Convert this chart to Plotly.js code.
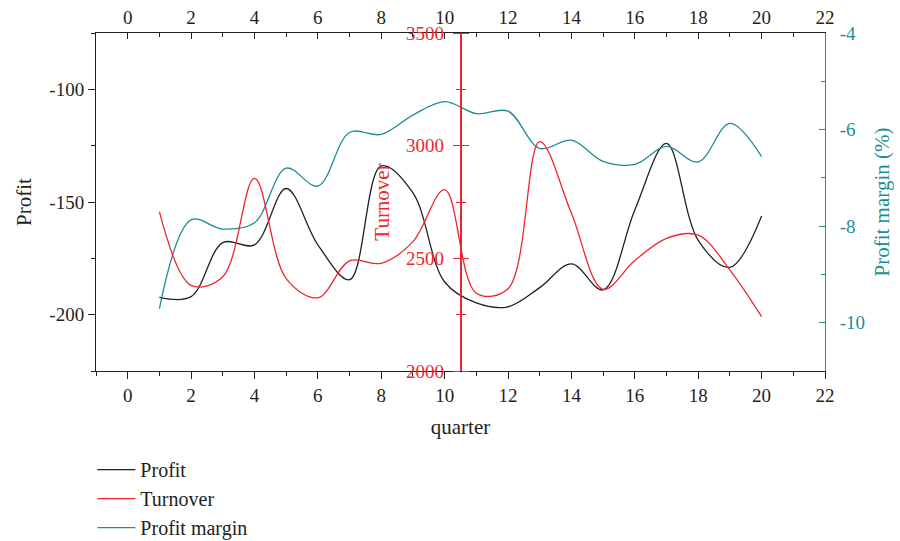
<!DOCTYPE html>
<html>
<head>
<meta charset="utf-8">
<script src="https://cdn.plot.ly/plotly-3.0.1.min.js"></script>
<style>html,body{margin:0;padding:0;background:#fff;}#chart{width:900px;height:541px;}</style>
</head>
<body>
<div id="chart"></div>
<script>
const quarter = [1,2,3,4,5,6,7,8,9,10,11,12,13,14,15,16,17,18,19,20];
const profit = [-192.3,-192,-168,-169,-144,-169,-184.5,-134,-146,-185.5,-194.8,-196.5,-188,-177.5,-189,-153.5,-124,-167,-179,-156.2];
const turnover = [2707,2380,2418,2855,2410,2325,2489,2478,2574,2805,2345,2365,3018,2700,2362,2490,2589,2603,2448,2241];
const profitMargin = [-9.71,-7.87,-8.06,-7.93,-6.80,-7.17,-6.06,-6.10,-5.70,-5.42,-5.67,-5.62,-6.39,-6.22,-6.66,-6.72,-6.35,-6.67,-5.87,-6.56];
const seriesNames = ['Profit','Turnover','Profit margin'];
const xTicks = [0,2,4,6,8,10,12,14,16,18,20,22];
const profitTicks = [-200,-150,-100];
const profitTickText = ['-200','-150','-100'];
const turnoverTicks = [2000,2500,3000,3500];
const marginTicks = [-10,-8,-6,-4];
const marginTickText = ['-10','-8','-6','-4'];

const BLACK = '#231f20', RED = '#f0242b', TEAL = '#1d8c95';
const FONT = 'Liberation Serif, Times New Roman, serif';
const SM = 1;

const traces = [
  {x: quarter, y: profit, name: seriesNames[0], type: 'scatter', mode: 'lines',
   line: {color: BLACK, width: 1.3, shape: 'spline', smoothing: SM}, xaxis: 'x', yaxis: 'y'},
  {x: quarter, y: turnover, name: seriesNames[1], type: 'scatter', mode: 'lines',
   line: {color: RED, width: 1.3, shape: 'spline', smoothing: SM}, xaxis: 'x', yaxis: 'y3'},
  {x: quarter, y: profitMargin, name: seriesNames[2], type: 'scatter', mode: 'lines',
   line: {color: TEAL, width: 1.3, shape: 'spline', smoothing: SM}, xaxis: 'x', yaxis: 'y2'},
  {x: quarter, y: profit, type: 'scatter', mode: 'lines', line: {width: 0}, opacity: 0,
   showlegend: false, hoverinfo: 'skip', xaxis: 'x2', yaxis: 'y'},
  {x: quarter, y: turnover, type: 'scatter', mode: 'lines', line: {width: 0}, opacity: 0,
   showlegend: false, hoverinfo: 'skip', xaxis: 'x', yaxis: 'y4'}
];

const tickFont = {family: FONT, size: 19, color: BLACK};
const layout = {
  width: 900, height: 541,
  margin: {l: 96, r: 75, t: 33, b: 170},
  paper_bgcolor: '#fff', plot_bgcolor: '#fff',
  font: {family: FONT, color: BLACK},
  showlegend: true,
  legend: {x: -0.005, xanchor: 'left', yref: 'container', y: 0.168, yanchor: 'top',
           font: {family: FONT, size: 20, color: BLACK}, itemwidth: 38,
           bgcolor: 'rgba(0,0,0,0)', tracegroupgap: 0},
  xaxis: {range: [-1, 22], tickvals: xTicks, ticks: 'outside', ticklen: 7, tickcolor: BLACK,
          minor: {dtick: 1, tick0: 0, ticks: 'outside', ticklen: 4, tickcolor: BLACK},
          showline: true, linecolor: BLACK, linewidth: 1, showgrid: false, zeroline: false,
          tickfont: tickFont, title: {text: 'quarter', font: {family: FONT, size: 21, color: BLACK}, standoff: 14}},
  xaxis2: {overlaying: 'x', side: 'top', anchor: 'y', range: [-1, 22], tickvals: xTicks,
           ticks: 'inside', ticklen: 6, tickcolor: BLACK,
           minor: {dtick: 1, tick0: 0, ticks: 'inside', ticklen: 4, tickcolor: BLACK},
           showline: true, linecolor: BLACK, linewidth: 1, showgrid: false, zeroline: false, tickfont: tickFont},
  yaxis: {range: [-225, -75], tickvals: profitTicks, ticktext: profitTickText, ticks: 'outside', ticklen: 7, tickcolor: BLACK,
          minor: {dtick: 25, tick0: -200, ticks: 'outside', ticklen: 4, tickcolor: BLACK},
          showline: true, linecolor: BLACK, linewidth: 1, showgrid: false, zeroline: false,
          tickfont: tickFont, title: {text: 'Profit', font: {family: FONT, size: 21, color: BLACK}, standoff: 12}},
  yaxis2: {overlaying: 'y', side: 'right', anchor: 'x', range: [-11, -4], tickvals: marginTicks, ticktext: marginTickText,
           ticks: 'inside', ticklen: 6, tickcolor: TEAL,
           minor: {dtick: 1, tick0: -10, ticks: 'inside', ticklen: 4, tickcolor: TEAL},
           showline: true, linecolor: TEAL, linewidth: 1, showgrid: false, zeroline: false,
           tickfont: {family: FONT, size: 19, color: TEAL}, ticklabelstandoff: 10,
           title: {text: 'Profit margin (%)', font: {family: FONT, size: 21, color: TEAL}, standoff: 10}},
  yaxis3: {overlaying: 'y', anchor: 'free', position: 0.5, side: 'left', range: [2000, 3500], tickvals: turnoverTicks,
           ticks: 'outside', ticklen: 7, tickcolor: RED,
           minor: {dtick: 250, tick0: 2000, ticks: 'outside', ticklen: 4, tickcolor: RED},
           showline: true, linecolor: RED, linewidth: 1.5, showgrid: false, zeroline: false,
           tickfont: {family: FONT, size: 19, color: RED}, ticklabelstandoff: 5,
           title: {text: 'Turnover', font: {family: FONT, size: 21, color: RED}, standoff: 10}},
  yaxis4: {overlaying: 'y', anchor: 'free', position: 0.5, side: 'right', range: [2000, 3500], tickvals: turnoverTicks,
           ticks: 'outside', ticklen: 7, tickcolor: RED,
           minor: {dtick: 250, tick0: 2000, ticks: 'outside', ticklen: 4, tickcolor: RED},
           showline: false, showgrid: false, zeroline: false, showticklabels: false}
};

Plotly.newPlot('chart', traces, layout, {displayModeBar: false, responsive: false});
</script>
</body>
</html>
